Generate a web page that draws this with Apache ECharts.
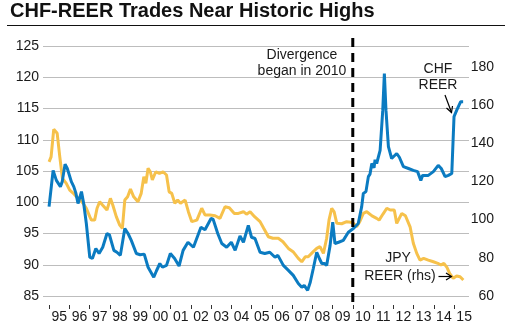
<!DOCTYPE html>
<html><head><meta charset="utf-8">
<script src="https://cdn.jsdelivr.net/npm/echarts@6/dist/echarts.min.js"></script>
<style>html,body{margin:0;padding:0;background:#fff}#c{width:514px;height:331px}</style>
</head><body><div id="c"></div>
<script>
// CHF REER (left axis), decimal years
const chfDates = [1995.00,1995.20,1995.36,1995.45,1995.56,1995.65,1995.79,1995.90,1996.10,1996.22,1996.32,1996.43,1996.60,1996.71,1996.84,1997.01,1997.14,1997.31,1997.47,1997.65,1997.86,1997.98,1998.20,1998.35,1998.52,1998.74,1998.90,1999.06,1999.31,1999.50,1999.70,1999.89,2000.17,2000.30,2000.47,2000.60,2000.80,2000.99,2001.20,2001.42,2001.62,2001.86,2002.13,2002.50,2002.70,2003.00,2003.10,2003.33,2003.53,2003.77,2004.00,2004.19,2004.43,2004.60,2004.84,2005.00,2005.17,2005.42,2005.65,2005.90,2006.16,2006.30,2006.57,2006.82,2007.06,2007.31,2007.48,2007.60,2007.77,2007.90,2008.05,2008.22,2008.35,2008.47,2008.60,2008.71,2008.88,2009.01,2009.12,2009.30,2009.53,2009.78,2010.03,2010.27,2010.44,2010.52,2010.65,2010.77,2010.85,2010.94,2011.05,2011.10,2011.18,2011.35,2011.48,2011.56,2011.64,2011.76,2011.92,2012.17,2012.30,2012.50,2012.75,2012.99,2013.20,2013.36,2013.45,2013.73,2013.98,2014.22,2014.37,2014.56,2014.72,2014.89,2015.00,2015.13,2015.20,2015.33,2015.45];
const chfValues = [99.3,105.1,103.5,103.8,102.5,103.3,106.1,105.4,103.3,102.5,101.5,99.8,101.7,99.8,96.6,91.2,91.0,92.6,91.8,92.8,95.0,94.8,92.3,92.0,91.5,95.8,95.0,93.9,91.8,91.6,91.7,89.6,88.0,89.0,90.2,89.6,89.9,91.8,91.0,89.8,92.3,93.6,92.8,96.0,95.6,97.4,97.3,95.0,93.4,92.8,93.6,92.3,94.6,93.6,96.3,94.4,94.2,92.0,91.8,92.0,91.2,91.5,89.9,89.1,88.3,87.0,86.4,86.7,85.9,87.2,89.4,92.0,91.0,90.2,90.2,89.9,93.1,96.8,93.4,93.6,93.9,95.2,95.8,96.6,99.3,101.4,101.7,104.1,104.5,106.2,105.5,106.8,106.2,108.3,114.7,120.6,114.7,108.9,107.0,107.8,107.2,105.7,105.4,105.1,104.9,103.5,104.3,104.3,104.9,105.9,105.4,104.1,104.3,104.6,113.7,114.7,115.0,116.1,116.1];
// JPY REER (right axis), decimal years
const jpyDates = [1995.00,1995.10,1995.23,1995.40,1995.53,1995.66,1995.85,1996.02,1996.20,1996.35,1996.50,1996.68,1996.84,1997.01,1997.09,1997.25,1997.37,1997.50,1997.65,1997.86,1998.03,1998.15,1998.32,1998.49,1998.62,1998.74,1998.88,1999.02,1999.18,1999.39,1999.55,1999.68,1999.78,1999.89,2000.00,2000.10,2000.27,2000.45,2000.63,2000.80,2000.93,2001.06,2001.21,2001.35,2001.49,2001.72,2001.88,2002.05,2002.30,2002.54,2002.70,2002.95,2003.20,2003.44,2003.69,2003.90,2004.15,2004.35,2004.60,2004.75,2004.93,2005.15,2005.42,2005.60,2005.83,2006.05,2006.32,2006.55,2006.82,2007.05,2007.31,2007.48,2007.65,2007.80,2008.05,2008.22,2008.38,2008.55,2008.71,2008.83,2008.96,2009.08,2009.21,2009.45,2009.70,2009.90,2010.03,2010.19,2010.35,2010.52,2010.69,2010.95,2011.18,2011.30,2011.50,2011.68,2011.85,2012.05,2012.17,2012.42,2012.60,2012.83,2012.99,2013.16,2013.32,2013.50,2013.73,2013.98,2014.20,2014.35,2014.50,2014.65,2014.80,2014.96,2015.13,2015.30,2015.46];
const jpyValues = [130.2,132.8,147.2,145.1,132.8,121.5,118.9,115.4,113.7,111.9,111.0,108.5,105.9,101.5,99.7,99.7,105.9,109.3,107.5,105.0,111.1,107.5,101.5,97.1,95.4,110.2,111.9,116.0,111.9,109.3,113.7,122.4,119.0,126.8,125.0,120.7,125.0,124.2,125.0,123.3,114.5,113.7,108.5,110.2,108.5,110.2,104.1,98.9,99.7,105.9,102.4,102.4,102.0,100.6,106.7,106.2,103.2,103.2,104.1,102.8,104.1,101.5,98.9,95.4,91.0,90.2,90.2,88.4,84.9,83.2,79.7,77.9,80.5,80.5,83.2,84.9,85.8,82.3,90.2,100.0,105.9,104.0,98.0,97.8,98.9,98.6,98.0,96.2,99.0,103.2,104.1,101.9,100.6,99.7,103.0,105.9,105.0,105.0,98.0,103.2,102.0,96.2,87.6,82.3,78.8,79.7,78.8,77.9,77.1,76.2,77.1,75.0,71.5,69.3,70.5,70.1,68.4];
const yearTicks = [1995,1996,1997,1998,1999,2000,2001,2002,2003,2004,2005,2006,2007,2008,2009,2010,2011,2012,2013,2014,2015];
const leftTicks = [85,90,95,100,105,110,115,120,125];
const rightTicks = [60,80,100,120,140,160,180];
const divergenceYear = 2010;

const FONT = "'Liberation Sans', Arial, sans-serif";
const BLUE = '#0b7bc1';
const YELLOW = '#f6c14b';
const chart = echarts.init(document.getElementById('c'), null, {renderer: 'canvas'});
const pair = (xs, ys) => xs.map((x, i) => [x, ys[i]]);

chart.setOption({
  animation: false,
  backgroundColor: '#fff',
  grid: {left: 43, right: 45, top: 46, bottom: 35, containLabel: false},
  xAxis: {
    type: 'value', min: 1994.70, max: 2015.74, offset: 9,
    axisLine: {show: false},
    axisTick: {show: true, length: 4, customValues: yearTicks, lineStyle: {color: '#333', width: 1}},
    axisLabel: {customValues: yearTicks.map(y => y + 0.5), formatter: v => String(Math.floor(v)).slice(2),
      color: '#1a1a1a', fontSize: 14, fontFamily: FONT, margin: 5},
    splitLine: {show: false}
  },
  yAxis: [
    {type: 'value', min: leftTicks[0], max: leftTicks[leftTicks.length-1], interval: 5, position: 'left',
     axisLine: {show: false}, axisTick: {show: false},
     axisLabel: {color: '#1a1a1a', fontSize: 14, fontFamily: FONT, margin: 4},
     splitLine: {show: true, lineStyle: {color: '#bdbdbd', width: 1}}},
    {type: 'value', min: rightTicks[0], max: 190.8, interval: 20, position: 'right',
     axisLine: {show: false}, axisTick: {show: false},
     axisLabel: {color: '#1a1a1a', fontSize: 14, fontFamily: FONT, margin: 25, align: 'right',
       formatter: v => rightTicks.includes(Math.round(v)) && Math.abs(v - Math.round(v)) < 1e-6 ? String(Math.round(v)) : ''},
     splitLine: {show: false}}
  ],
  series: [
    {name: 'CHF REER', type: 'line', yAxisIndex: 0, data: pair(chfDates, chfValues), showSymbol: false,
     lineStyle: {color: BLUE, width: 3}, itemStyle: {color: BLUE}, z: 3},
    {name: 'JPY REER (rhs)', type: 'line', yAxisIndex: 1, data: pair(jpyDates, jpyValues), showSymbol: false,
     lineStyle: {color: YELLOW, width: 3}, itemStyle: {color: YELLOW}, z: 2}
  ]
});

const dx = chart.convertToPixel({xAxisIndex: 0}, divergenceYear);
const txt = (text, x, y, align) => ({type: 'text', x: x, y: y, z: 10,
  style: {text: text, fill: '#1a1a1a', font: '14px ' + FONT, textAlign: align || 'center', textVerticalAlign: 'middle'}});
chart.setOption({
  graphic: [
    {type: 'text', x: 10, y: 1.5, z: 10, style: {text: 'CHF-REER Trades Near Historic Highs', fill: '#111', font: 'bold 20px ' + FONT, textVerticalAlign: 'top'}},
    {type: 'line', z: 10, shape: {x1: 7, y1: 25.5, x2: 505, y2: 25.5}, style: {stroke: '#111', lineWidth: 1}},
    {type: 'line', z: 9, shape: {x1: dx, y1: 38, x2: dx, y2: 306}, style: {stroke: '#000', lineWidth: 3, lineDash: [9, 6]}},
    txt('Divergence', 302, 55),
    txt('began in 2010', 302, 71.5),
    txt('CHF', 438, 69),
    txt('REER', 438, 85),
    {type: 'line', z: 10, shape: {x1: 445, y1: 95, x2: 451.5, y2: 112.5}, style: {stroke: '#000', lineWidth: 1.2}},
    {type: 'polyline', z: 10, shape: {points: [[446.5, 108], [451.5, 112.5], [452.5, 106]]}, style: {stroke: '#000', lineWidth: 1.2, fill: null}},
    txt('JPY', 398, 258),
    txt('REER (rhs)', 400, 276),
    {type: 'line', z: 10, shape: {x1: 438.5, y1: 276.5, x2: 451.5, y2: 276.5}, style: {stroke: '#000', lineWidth: 1.2}},
    {type: 'polyline', z: 10, shape: {points: [[446, 273], [451.5, 276.5], [446, 280]]}, style: {stroke: '#000', lineWidth: 1.2, fill: null}}
  ]
});
</script></body></html>
